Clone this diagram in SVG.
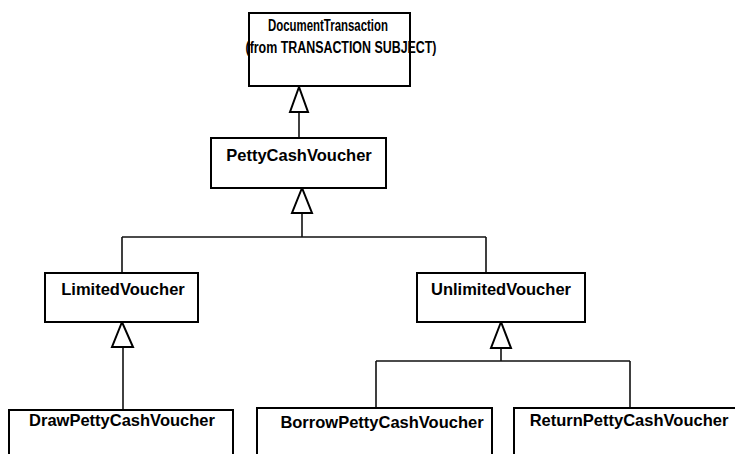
<svg xmlns="http://www.w3.org/2000/svg" width="735" height="454" viewBox="0 0 735 454">
<style>
.box{fill:#ffffff;stroke:#000000;stroke-width:2}
.lbl{font-family:"Liberation Sans",Arial,sans-serif;font-weight:bold;font-size:16.5px;fill:#000000;text-anchor:middle}
.top{font-size:16px}
.line{fill:none;stroke:#111111;stroke-width:1.6}
.tri{fill:#ffffff;stroke:#000000;stroke-width:2;stroke-linejoin:miter}
</style>
<rect x="0" y="0" width="735" height="454" fill="#ffffff"/>
<g id="connectors">
<path class="line" d="M299,112 V138"/>
<path class="line" d="M302,213 V237 M122,237 H486 M122,237 V273 M486,237 V273"/>
<path class="line" d="M123,347 V410"/>
<path class="line" d="M501,348 V361 M376,361 H630 M376,361 V408 M630,361 V408"/>
<polygon class="tri" points="299,87 290,112 308,112"/>
<polygon class="tri" points="302,188 292,213 312,213"/>
<polygon class="tri" points="122,322 112,347 133,347"/>
<polygon class="tri" points="501,322 491,348 511,348"/>
</g>
<g id="DocumentTransaction">
<rect class="box" x="249" y="13" width="161" height="73"/>
<text class="lbl top" x="328" y="31" textLength="120" lengthAdjust="spacingAndGlyphs">DocumentTransaction</text>
<text class="lbl top" x="341" y="53" textLength="191" lengthAdjust="spacingAndGlyphs">(from TRANSACTION SUBJECT)</text>
</g>
<g id="PettyCashVoucher">
<rect class="box" x="211" y="138" width="175" height="50"/>
<text class="lbl" x="299" y="161">PettyCashVoucher</text>
</g>
<g id="LimitedVoucher">
<rect class="box" x="45" y="273" width="153" height="49"/>
<text class="lbl" x="123" y="295">LimitedVoucher</text>
</g>
<g id="UnlimitedVoucher">
<rect class="box" x="417" y="273" width="168" height="49"/>
<text class="lbl" x="501" y="295">UnlimitedVoucher</text>
</g>
<g id="DrawPettyCashVoucher">
<rect class="box" x="9" y="410" width="224" height="60"/>
<text class="lbl" x="122" y="426">DrawPettyCashVoucher</text>
</g>
<g id="BorrowPettyCashVoucher">
<rect class="box" x="257" y="408" width="235" height="60"/>
<text class="lbl" x="382" y="428">BorrowPettyCashVoucher</text>
</g>
<g id="ReturnPettyCashVoucher">
<rect class="box" x="514" y="408" width="240" height="60"/>
<text class="lbl" x="629" y="426">ReturnPettyCashVoucher</text>
</g>
</svg>
